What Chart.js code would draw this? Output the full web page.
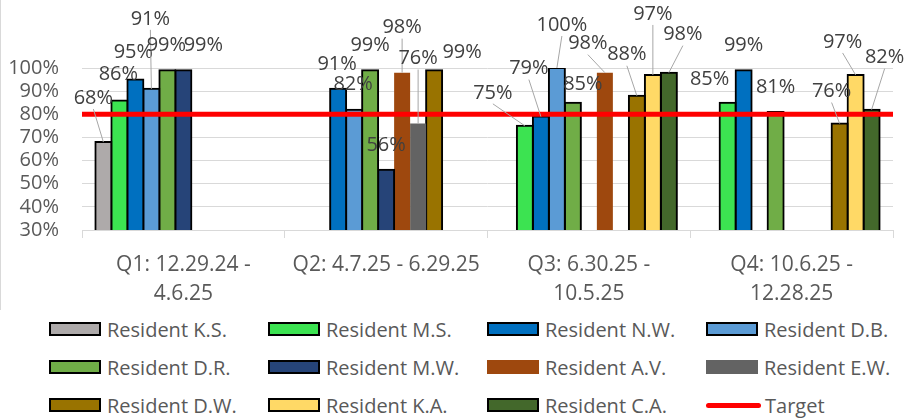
<!DOCTYPE html>
<html>
<head>
<meta charset="utf-8">
<script src="https://cdn.jsdelivr.net/npm/chart.js@4.4.1/dist/chart.umd.min.js"></script>
<style>
  body { margin: 0; background: #fff; box-shadow: inset 1px 0 0 #d9d9d9; font-family: 'Open Sans', sans-serif; }
  #wrap { position: relative; width: 914px; height: 310px; }
  #legend { position: absolute; left: 49px; top: 310px; display: grid; grid-template-columns: repeat(4, 219px); grid-auto-rows: 38px; }
  .item { display: flex; align-items: center; font-size: 20px; color: #595959; white-space: nowrap; }
  .box { width: 52px; height: 14px; box-sizing: border-box; margin-right: 6px; }
  .line { width: 55px; height: 5px; border-radius: 3px; margin-right: 4px; }
</style>
</head>
<body>
<div id="wrap"><canvas id="chart"></canvas></div>
<div id="legend"></div>
<script>
// categorias (rótulos do eixo x, já quebrados em linhas)
const categories = [['Q1: 12.29.24 -', '4.6.25'], 'Q2: 4.7.25 - 6.29.25', ['Q3: 6.30.25 -', '10.5.25'], ['Q4: 10.6.25 -', '12.28.25']];

// valores por residente (%), null = sem barra
const residentKS = [68, null, null, null];
const residentMS = [86, null, 75, 85];
const residentNW = [95, 91, 79, 99];
const residentDB = [91, 82, 100, null];
const residentDR = [99, 99, 85, 81];
const residentMW = [99, 56, null, null];
const residentAV = [null, 98, 98, null];
const residentEW = [null, 76, null, null];
const residentDW = [null, 99, 88, 76];
const residentKA = [null, null, 97, 97];
const residentCA = [null, null, 98, 82];
const target = 80;

const yMin = 30;
const yMax = 100;
const yStep = 10;

// cores das barras
const series = [
  { label: 'Resident K.S.', data: residentKS, color: '#AEAAAA', border: '#000' },
  { label: 'Resident M.S.', data: residentMS, color: '#3CE351', border: '#000' },
  { label: 'Resident N.W.', data: residentNW, color: '#0070C0', border: '#000' },
  { label: 'Resident D.B.', data: residentDB, color: '#5B9BD5', border: '#000' },
  { label: 'Resident D.R.', data: residentDR, color: '#70AD47', border: '#000' },
  { label: 'Resident M.W.', data: residentMW, color: '#264478', border: '#000' },
  { label: 'Resident A.V.', data: residentAV, color: '#9E480E', border: null },
  { label: 'Resident E.W.', data: residentEW, color: '#636363', border: null },
  { label: 'Resident D.W.', data: residentDW, color: '#997300', border: '#000' },
  { label: 'Resident K.A.', data: residentKA, color: '#FFD966', border: '#000' },
  { label: 'Resident C.A.', data: residentCA, color: '#43682B', border: '#000' }
];

// deslocamento dos rótulos de dados [dx, dy, linha de chamada]
const labelOffsets = {
  '0-0': [-10, -19, true], '1-0': [-1, -1], '2-0': [-2, -2], '3-0': [-1, -45, true], '4-0': [-1, 0], '5-0': [20, 0],
  '2-1': [-1, 0], '3-1': [-1, 0], '4-1': [0, 0], '5-1': [0, 0], '6-1': [0, -20, true], '7-1': [0, -40, true], '8-1': [28, 7],
  '1-2': [-32, -8, true], '2-2': [-12, -23, true], '3-2': [5, -18, true], '4-2': [10, 7], '6-2': [-17, -4, true],
  '8-2': [-10, -16, true], '9-2': [0, -36, true], '10-2': [14, -13, true],
  '1-3': [-18, 2], '2-3': [0, 0], '4-3': [0, 0], '8-3': [-8, -7, true], '9-3': [-13, -8, true], '10-3': [13, -27, true]
};

Chart.defaults.font.family = "'Open Sans', sans-serif";
Chart.defaults.font.size = 20;
Chart.defaults.color = '#595959';

// rótulos de dados desenhados acima das barras
const barLabels = {
  id: 'barLabels',
  afterDatasetsDraw(chart) {
    const ctx = chart.ctx;
    ctx.save();
    ctx.font = "20px 'Open Sans', sans-serif";
    ctx.textAlign = 'center';
    ctx.textBaseline = 'middle';
    chart.data.datasets.forEach((ds, di) => {
      if (ds.type === 'line') return;
      const meta = chart.getDatasetMeta(di);
      meta.data.forEach((bar, i) => {
        const v = ds.data[i];
        if (v === null) return;
        const off = labelOffsets[di + '-' + i] || [0, 0];
        const x = bar.x + off[0];
        const y = bar.y - 25 + off[1];
        if (off[2]) {
          ctx.strokeStyle = '#A6A6A6';
          ctx.lineWidth = 1;
          ctx.beginPath();
          ctx.moveTo(x, y + 11);
          ctx.lineTo(bar.x, bar.y);
          ctx.stroke();
        }
        ctx.fillStyle = '#404040';
        ctx.fillText(v + '%', x, y);
      });
    });
    ctx.restore();
  }
};

const datasets = series.map(s => ({
  label: s.label,
  data: s.data,
  backgroundColor: s.color,
  borderColor: s.border || s.color,
  borderWidth: s.border ? 2 : 0,
  borderSkipped: false,
  inflateAmount: s.border ? 1 : 0,
  barPercentage: 1,
  categoryPercentage: 0.868
}));

// linha de meta: de borda a borda do eixo de categorias
datasets.push({
  type: 'line',
  label: 'Target',
  parsing: false,
  data: [{ x: -0.5, y: target }, { x: categories.length - 0.5, y: target }],
  borderColor: '#FF0000',
  borderWidth: 5,
  pointRadius: 0,
  order: -1
});

const chart = new Chart(document.getElementById('chart'), {
  type: 'bar',
  data: { labels: categories, datasets: datasets },
  options: {
    responsive: true,
    maintainAspectRatio: false,
    animation: false,
    layout: { padding: { top: 68, right: 21 } },
    plugins: {
      legend: { display: false },
      tooltip: { enabled: false }
    },
    scales: {
      x: {
        grid: { drawOnChartArea: false, color: '#D9D9D9', tickLength: 8, offset: true },
        border: { color: '#D9D9D9' },
        ticks: { color: '#595959', padding: 12, maxRotation: 0, autoSkip: false, font: { size: 21, lineHeight: 1.4 } },
        afterFit(scale) { scale.height = 80; }
      },
      y: {
        min: yMin,
        max: yMax,
        ticks: { stepSize: yStep, padding: 23, autoSkip: false, color: '#595959', font: { size: 20, lineHeight: 1 }, callback: v => v + '%' },
        grid: { color: '#D9D9D9', drawTicks: false },
        border: { display: false },
        afterFit(scale) { scale.width = 82; }
      }
    }
  },
  plugins: [barLabels]
});

// legenda em grade (4 colunas), montada a partir dos datasets
const legendEl = document.getElementById('legend');
chart.data.datasets.forEach(ds => {
  const item = document.createElement('div');
  item.className = 'item';
  const mark = document.createElement('span');
  if (ds.type === 'line') {
    mark.className = 'line';
    mark.style.background = ds.borderColor;
  } else {
    mark.className = 'box';
    mark.style.background = ds.backgroundColor;
    if (ds.borderWidth) mark.style.border = '2px solid ' + ds.borderColor;
  }
  item.appendChild(mark);
  item.appendChild(document.createTextNode(ds.label));
  legendEl.appendChild(item);
});
</script>
</body>
</html>
